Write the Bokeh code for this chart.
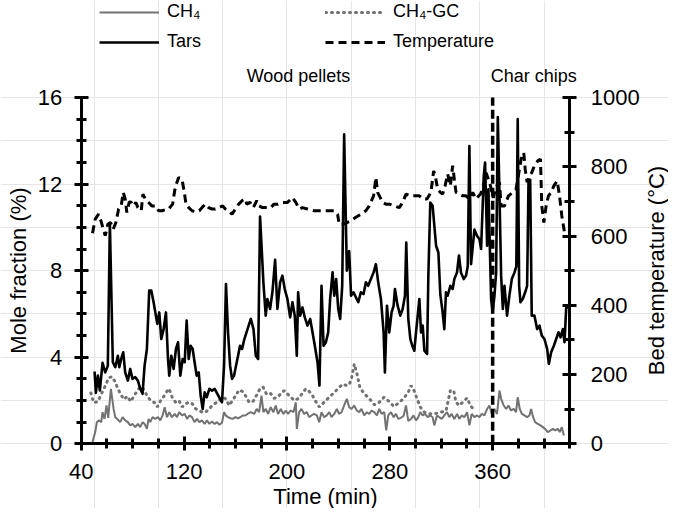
import math
from bokeh.plotting import figure
from bokeh.models import (Range1d, LinearAxis, FixedTicker, Legend, LegendItem, Label)
from bokeh.embed import file_html
from bokeh.resources import INLINE

# ---------------- data ----------------
tars_time = [50.4, 51.4, 53.0, 54.5, 56.6, 58.7, 60.7, 62.3, 64.6, 66.5, 68.5, 69.6, 71.1, 72.7,
             74.2, 76.3, 78.1, 79.9, 82.0, 84.1, 85.9, 87.7, 89.3, 91.1, 92.9, 94.5, 96.3, 98.1,
             99.2, 100.7, 102.3, 104.1, 105.9, 107.5, 108.5, 110.1, 111.9, 113.7, 115.3, 117.1,
             118.9, 120.5, 122.0, 123.6, 125.1, 126.7, 128.2, 129.8, 131.4, 132.9, 134.5, 136.0,
             137.6, 139.7, 141.7, 143.8, 145.9, 148.0, 149.5, 151.1, 152.6, 154.2, 155.8, 157.3,
             158.9, 160.4, 162.0, 163.5, 165.1, 166.9, 169.0, 171.9, 174.0, 175.8, 177.6, 179.1,
             181.7, 183.5, 184.8, 186.9, 188.7, 190.8, 192.6, 194.7, 196.5, 198.3, 200.4, 202.5,
             204.3, 206.1, 207.7, 208.7, 210.3, 212.1, 213.9, 216.0, 218.1, 219.9, 221.7, 223.8,
             225.3, 226.9, 228.5, 230.3, 232.1, 233.6, 235.5, 236.8, 238.3, 239.9, 241.4, 243.0,
             244.5, 246.6, 248.4, 249.9, 251.8, 253.6, 255.5, 257.5, 259.6, 261.4, 263.2, 265.3,
             267.4, 269.2, 271.0, 273.1, 275.2, 276.2, 277.8, 279.6, 281.4, 283.0, 284.0, 286.1,
             288.2, 290.0, 291.8, 292.8, 294.4, 296.0, 297.5, 299.1, 300.4, 301.7, 303.0, 304.3,
             305.6, 306.9, 309.0, 310.0, 311.5, 313.3, 316.0, 317.8, 319.3, 321.1, 322.4, 323.7,
             325.0, 327.1, 328.9, 330.2, 332.3, 333.8, 335.4, 337.5, 339.3, 340.6, 341.9, 343.2,
             345.8, 347.9, 349.7, 351.0, 353.1, 354.1, 355.7, 356.7, 358.8, 360.0, 361.4, 362.7,
             364.0, 365.3, 366.6, 367.9, 369.2, 371.2, 373.0, 374.9, 377.0, 378.4, 379.5, 380.6,
             381.6, 383.4, 385.3, 386.8, 387.9, 389.2, 390.4, 392.5, 394.6, 396.4, 398.2, 400.3,
             402.4, 403.7, 405.5, 407.6, 409.4, 411.2, 412.8, 414.6, 415.9, 417.2, 419.8]
tars_val = [3.34, 2.35, 3.15, 2.46, 3.74, 3.3, 3.6, 10.2, 3.77, 3.54, 4.07, 3.54, 3.92, 4.23,
            3.3, 2.92, 3.46, 3.0, 3.08, 2.92, 2.54, 2.31, 3.61, 4.38, 7.08, 7.08, 6.54, 5.92,
            5.54, 6.07, 4.84, 5.3, 6.07, 3.92, 3.15, 4.07, 3.46, 4.38, 4.69, 3.15,
            3.92, 3.77, 5.69, 3.92, 4.53, 4.38, 3.77, 3.15, 3.3, 2.23, 1.61, 2.38,
            2.15, 2.54, 2.46, 2.54, 2.31, 2.08, 1.92, 3.61, 7.38, 5.15, 3.61, 3.0,
            3.15, 3.61, 4.07, 4.53, 4.38, 4.84, 5.23, 5.77, 5.3, 4.07, 3.92, 10.5,
            7.46, 5.92, 6.69, 6.23, 7.0, 8.5, 6.23, 7.46, 7.77, 7.15, 6.69, 5.84,
            6.54, 5.92, 4.07, 7.0, 5.92, 6.3, 5.84, 5.46, 5.77, 5.15, 4.53, 3.77,
            2.69, 7.3, 4.53, 4.69, 5.15, 6.69, 7.92, 6.84, 7.61, 6.23, 5.77, 7.3,
            14.3, 8.0, 8.9, 6.84, 7.0, 6.77, 6.54, 7.0, 6.92, 7.46, 7.3, 7.61,
            7.92, 8.3, 7.46, 6.69, 5.15, 3.3, 6.38, 5.15, 6.07, 6.38, 7.15, 6.38,
            5.92, 6.23, 6.84, 9.3, 5.77, 4.84, 4.53, 4.3, 5.15, 5.92, 6.69, 5.15,
            5.46, 4.3, 4.15, 7.8, 11.15, 11.0, 9.15, 8.84, 6.9, 6.07, 5.3, 7.0,
            6.84, 7.3, 7.15, 7.61, 7.92, 8.7, 7.9, 7.61, 7.77, 8.2, 13.76, 8.3,
            9.9, 9.6, 9.46, 9.0, 12.38, 13.0, 9.15, 11.76, 6.69, 6.07, 6.84, 7.92,
            15.1, 11.5, 7.77, 6.23, 7.3, 5.92, 6.84, 7.61, 7.92, 8.2, 15.0, 7.3,
            6.54, 6.69, 7.0, 7.3, 12.2, 12.2, 5.92, 5.92, 5.3, 5.46, 5.0, 4.84,
            4.38, 3.69, 4.23, 4.53, 4.84, 5.15, 4.92, 5.3, 4.69, 6.3, 6.3]

temp_time = [48.8, 50.9, 53.5, 55.6, 57.1, 58.7, 60.7, 62.8, 64.9, 67.0, 69.1, 71.1, 72.7, 74.2,
             75.5, 77.4, 78.9, 80.7, 82.5, 84.1, 86.7, 88.0, 89.8, 92.4, 95.0, 98.1, 100.2, 102.8,
             105.4, 108.0, 111.1, 112.7, 113.7, 115.8, 118.4, 120.2, 121.5, 123.6, 126.2, 129.3,
             131.9, 133.9, 136.5, 139.1, 141.7, 144.3, 146.9, 150.0, 152.1, 154.7, 157.3, 159.9,
             162.5, 165.1, 167.7, 168.7, 171.3, 173.9, 176.5, 178.4, 180.9, 183.5, 187.4, 190.0,
             193.1, 196.5, 200.4, 204.3, 206.9, 209.5, 212.1, 216.0, 221.2, 225.1, 229.0, 232.9,
             236.8, 239.4, 240.6, 243.3, 246.6, 249.7, 253.6, 257.5, 261.4, 264.0, 267.4, 269.2,
             270.5, 272.6, 274.4, 277.0, 279.6, 283.5, 287.4, 290.0, 292.6, 296.5, 299.6, 303.0,
             305.6, 308.9, 312.0, 314.1, 315.4, 317.2, 319.3, 321.1, 323.0, 325.0, 327.1, 328.9,
             330.2, 331.5, 334.1, 336.7, 339.3, 341.9, 344.5, 347.1, 350.5, 352.3, 354.9, 356.7,
             358.3, 360.5, 362.5, 365.3, 366.6, 369.2, 372.3, 375.7, 378.2, 380.0, 382.1, 384.2,
             385.3, 386.8, 388.6, 390.4, 392.5, 395.1, 397.2, 398.2, 399.8, 401.6, 403.4, 405.5,
             407.6, 410.2, 412.0, 413.8, 415.9, 417.5]
temp_val = [608, 649, 663, 641, 620, 601, 634, 639, 620, 639, 678, 687, 726, 707,
            668, 699, 697, 687, 697, 682, 673, 721, 707, 697, 687, 687, 673, 673,
            676, 678, 692, 731, 747, 769, 764, 726, 692, 682, 673, 670,
            673, 682, 692, 682, 678, 678, 682, 687, 678, 673, 663, 678,
            692, 702, 707, 692, 697, 682, 702, 687, 682, 682, 682, 692,
            692, 697, 697, 711, 697, 678, 682, 678, 673, 673, 673, 673,
            673, 663, 634, 634, 639, 644, 654, 663, 673, 687, 716, 769,
            726, 711, 697, 692, 692, 687, 682, 697, 721, 716, 716, 716,
            707, 707, 726, 788, 774, 735, 726, 721, 745, 779, 745, 803,
            764, 726, 721, 716, 716, 707, 726, 707, 721, 735, 783, 764,
            745, 710, 740, 755, 687, 687, 716, 726, 735, 774, 822, 841,
            793, 755, 774, 783, 803, 817, 822, 687, 639, 687, 716, 726,
            745, 759, 716, 658, 610, 600]

ch4_time = [48.8, 50.9, 52.2, 54.0, 55.6, 56.6, 58.1, 59.7, 61.0, 63.1, 65.2, 66.5, 68.5, 70.3,
            72.2, 74.2, 76.3, 78.1, 79.9, 82.0, 84.1, 85.9, 87.7, 89.3, 91.1, 92.4, 93.7, 95.5,
            97.6, 99.7, 101.5, 103.3, 104.9, 106.7, 108.5, 110.6, 112.7, 114.5, 116.3, 118.4,
            120.5, 122.3, 124.1, 126.2, 128.2, 130.1, 131.9, 133.9, 136.0, 137.8, 139.7, 141.7,
            143.8, 145.6, 147.5, 149.5, 151.1, 152.6, 154.2, 156.0, 157.8, 159.9, 162.0, 163.8,
            165.6, 167.7, 169.3, 171.9, 174.5, 176.5, 178.4, 180.2, 181.7, 183.5, 185.4, 187.4,
            189.5, 191.3, 193.1, 195.2, 197.3, 199.1, 200.9, 203.0, 205.1, 206.9, 207.7, 209.5,
            211.3, 213.4, 215.5, 217.3, 219.1, 221.2, 223.3, 225.1, 226.9, 229.0, 231.0, 232.9,
            234.7, 236.8, 238.8, 240.6, 242.5, 244.5, 246.6, 248.4, 250.3, 252.3, 254.4, 256.2,
            258.0, 260.1, 262.2, 264.0, 265.8, 267.9, 270.0, 271.8, 273.6, 275.7, 277.2, 278.8,
            280.9, 283.0, 284.8, 286.6, 288.7, 290.8, 292.6, 294.4, 296.5, 298.5, 300.4, 302.2,
            303.7, 305.6, 307.4, 309.5, 311.5, 313.3, 314.6, 316.7, 318.5, 320.4, 322.4, 324.5,
            326.3, 328.1, 330.2, 332.3, 334.1, 335.9, 338.0, 340.1, 341.9, 343.7, 345.8, 347.9,
            349.7, 351.5, 353.6, 355.7, 357.5, 359.3, 361.4, 363.4, 365.3, 366.6, 368.6, 370.5,
            372.3, 374.3, 376.4, 378.2, 379.5, 381.1, 382.7, 384.7, 386.8, 388.6, 389.9, 391.5,
            393.0, 395.1, 397.2, 399.0, 400.8, 402.9, 405.0, 406.8, 408.6, 410.7, 412.2, 413.8,
            415.4]
ch4_val = [0.08, 0.54, 1.0, 1.08, 1.0, 1.46, 1.15, 1.77, 1.2, 2.54, 1.61, 1.23, 1.12, 1.0,
           1.23, 1.08, 1.0, 0.85, 0.92, 0.77, 0.92, 0.77, 1.0, 0.92, 0.69, 1.15, 1.0, 1.23,
           1.15, 1.23, 1.08, 1.31, 1.69, 1.23, 1.46, 1.23, 1.38, 1.23, 1.46, 1.31,
           1.38, 1.15, 1.31, 1.23, 1.0, 1.15, 1.0, 1.08, 0.92, 1.08, 0.92, 1.03,
           0.92, 1.0, 0.88, 0.97, 1.46, 1.3, 1.23, 1.18, 1.15, 1.23, 1.18, 1.23,
           1.31, 1.31, 1.38, 1.46, 1.38, 1.61, 1.46, 2.23, 1.46, 1.61, 1.38, 1.69,
           1.46, 1.77, 1.38, 1.61, 1.38, 1.54, 1.38, 1.54, 1.46, 1.92, 0.69, 1.46,
           1.61, 1.38, 1.46, 1.23, 1.31, 1.38, 1.31, 1.0, 1.46, 1.23, 1.31, 1.46,
           1.23, 1.38, 1.61, 1.38, 1.46, 1.77, 2.08, 1.69, 1.61, 1.77, 1.54, 1.46,
           1.61, 1.31, 1.46, 1.38, 1.54, 1.46, 1.31, 1.61, 1.38, 1.46, 0.62, 1.31,
           1.46, 1.23, 1.38, 1.15, 1.2, 1.3, 1.77, 1.05, 1.15, 1.31, 1.08, 1.23,
           1.46, 1.31, 1.38, 1.23, 1.31, 1.23, 0.85, 1.31, 1.23, 1.15, 1.31, 1.46,
           1.23, 1.38, 1.15, 1.38, 1.15, 1.31, 1.23, 1.46, 0.85, 1.38, 1.23, 1.31,
           1.23, 1.38, 1.31, 1.61, 1.77, 1.38, 1.61, 1.38, 2.46, 2.08, 1.77, 1.61,
           1.77, 1.54, 1.61, 1.46, 2.15, 1.61, 1.38, 1.31, 1.23, 1.31, 1.61, 1.23,
           1.0, 0.92, 0.85, 0.77, 0.69, 0.54, 0.62, 0.69, 0.62, 0.69, 0.54, 0.77,
           0.38]

gc_time = [47.5, 49.7, 53.0, 56.4, 58.8, 61.4, 64.0, 66.0, 68.2, 70.5, 73.3, 75.8, 78.5, 81.0,
           83.6, 86.2, 88.8, 91.4, 94.0, 97.0, 99.2, 101.8, 103.8, 106.4, 108.2, 110.8, 113.4,
           116.0, 118.6, 121.2, 123.8, 126.4, 129.0, 131.6, 134.2, 136.8, 140.7, 143.3, 145.9,
           149.8, 152.4, 155.0, 157.6, 160.2, 162.8, 165.4, 168.0, 170.6, 173.5, 176.5, 179.0,
           181.5, 184.0, 187.0, 190.0, 192.6, 195.2, 197.8, 200.4, 203.0, 206.0, 209.5, 212.1,
           214.7, 217.3, 219.9, 222.5, 225.1, 227.7, 230.3, 232.9, 235.5, 238.1, 240.6, 243.2,
           245.8, 248.4, 250.3, 252.4, 254.4, 256.8, 260.2, 264.0, 268.0, 271.8, 275.5, 279.6,
           283.2, 287.2, 290.8, 294.4, 296.5, 298.6, 301.2, 303.8, 306.9, 310.8, 314.7, 319.9,
           323.8, 327.1, 329.7, 331.5, 334.1, 336.7, 340.1, 342.7, 345.8]
gc_val = [2.35, 1.9, 1.95, 2.39, 2.69, 3.05, 3.1, 2.9, 2.6, 2.3, 2.05, 2.2, 1.95, 2.2,
          2.45, 2.65, 2.5, 2.2, 2.0, 1.9, 1.7, 2.0, 2.15, 2.4, 2.55, 2.15, 1.92,
          2.0, 1.7, 1.85, 1.92, 1.85, 1.62, 1.54, 1.46, 1.46, 1.69, 1.85, 1.92,
          2.15, 2.08, 1.77, 2.0, 2.23, 2.49, 2.42, 2.2, 1.92, 1.95, 2.25, 2.54,
          2.62, 2.31, 2.35, 2.1, 2.15, 2.31, 2.46, 2.31, 2.15, 2.0, 2.12, 2.35,
          2.54, 2.42, 2.23, 1.95, 1.7, 1.85, 2.0, 2.15, 2.3, 2.45, 2.6, 2.75,
          2.7, 2.72, 3.05, 3.69, 3.25, 2.6, 2.31, 2.1, 1.8, 1.92, 2.15, 1.95,
          1.72, 1.9, 2.1, 2.39, 2.69, 2.5, 2.08, 1.69, 1.46, 1.39, 1.39, 1.46,
          1.54, 2.46, 2.46, 1.92, 1.77, 1.92, 2.12, 1.77, 1.54]

x_major = [40, 120, 200, 280, 360]
x_limits = [40, 420]
y_left_major = [0, 4, 8, 12, 16]
y_right_major = [0, 200, 400, 600, 800, 1000]
feed_change_time = 360
phase_labels = ["Wood pellets", "Char chips"]
phase_label_x = [209, 392]

FONT = "Liberation Sans"
GRAY = "#727272"

W, H = 668, 508
# pixel placement of the axes box on the canvas (plot area)
BOX_L, BOX_R, BOX_T, BOX_B = 80.7, 569.3, 97.0, 443.3
x_scale = (BOX_R - BOX_L) / (x_limits[1] - x_limits[0])
x_start = x_limits[0] - BOX_L / x_scale
x_end = x_start + W / x_scale
y_scale = (BOX_B - BOX_T) / (y_left_major[-1] - y_left_major[0])
y_end = y_left_major[-1] + BOX_T / y_scale
y_start = y_end - H / y_scale
t_ratio = y_right_major[-1] / y_left_major[-1]

p = figure(width=W, height=H, x_range=Range1d(x_start, x_end), y_range=Range1d(y_start, y_end),
           output_backend="svg", toolbar_location=None, x_axis_location=None,
           y_axis_location=None,
           min_border_left=0, min_border_right=0, min_border_top=0, min_border_bottom=0)
p.extra_y_ranges = {"temp": Range1d(y_start * t_ratio, y_end * t_ratio)}
p.outline_line_color = None
p.background_fill_color = "white"

r_ch4 = p.line(ch4_time, ch4_val, line_color=GRAY, line_width=2)
r_gc = p.line(gc_time, gc_val, line_color=GRAY, line_width=3, line_dash="1 5",
              line_cap="round")
r_tars = p.line(tars_time, tars_val, line_color="black", line_width=2.6, line_join="round")
r_temp = p.line(temp_time, temp_val, y_range_name="temp", line_color="black", line_width=3,
                line_dash="8 5")

p.segment(x0=[feed_change_time], y0=[y_left_major[0]], x1=[feed_change_time],
          y1=[y_left_major[-1]], line_color="black", line_width=3.5, line_dash="9 4")

def style_axis(ax):
    ax.axis_line_width = 3
    ax.axis_line_color = "black"
    ax.major_tick_line_width = 3
    ax.minor_tick_line_width = 3
    ax.major_tick_in = 7
    ax.major_tick_out = 7
    ax.minor_tick_in = 5
    ax.minor_tick_out = 5
    ax.major_label_text_font = FONT
    ax.major_label_text_font_size = "22px"
    ax.major_label_text_color = "black"

xa = LinearAxis(fixed_location=y_left_major[0], bounds=tuple(x_limits))
xa.ticker = FixedTicker(ticks=x_major, minor_ticks=list(range(x_limits[0], x_limits[1] + 1, 20)))
style_axis(xa)
xa.major_label_standoff = 13
p.add_layout(xa, "below")

ya = LinearAxis(fixed_location=x_limits[0], bounds=(y_left_major[0], y_left_major[-1]))
ya.ticker = FixedTicker(ticks=y_left_major, minor_ticks=list(range(0, 17)))
style_axis(ya)
ya.major_label_standoff = 12
p.add_layout(ya, "left")

yr = LinearAxis(y_range_name="temp", fixed_location=x_limits[1],
                bounds=(y_right_major[0], y_right_major[-1]))
yr.ticker = FixedTicker(ticks=y_right_major, minor_ticks=list(range(0, 1001, 100)))
style_axis(yr)
yr.major_label_standoff = 14
p.add_layout(yr, "right")

def px_to_x(px):
    return x_start + px / x_scale

def py_to_y(py):
    return y_end - py / y_scale

title_kw = dict(text_font=FONT, text_font_size="22px", text_color="black",
                text_align="center", text_baseline="middle")
p.add_layout(Label(x=px_to_x(325), y=py_to_y(496), text="Time (min)", **title_kw))
p.add_layout(Label(x=px_to_x(18), y=py_to_y(270), text="Mole fraction (%)",
                   angle=math.pi / 2, **title_kw))
p.add_layout(Label(x=px_to_x(656), y=py_to_y(270), text="Bed temperature (°C)",
                   angle=math.pi / 2, **title_kw))

for txt, xx in zip(phase_labels, phase_label_x):
    p.add_layout(Label(x=xx, y=17.0, text=txt, text_align="center", text_baseline="middle",
                       text_font=FONT, text_font_size="18px", text_color="black"))

def make_legend(items, x):
    return Legend(items=items, location=(x, H - 52), orientation="vertical",
                  glyph_width=60, glyph_height=20, label_height=20, label_standoff=8,
                  spacing=9, padding=0, margin=0, border_line_color=None,
                  background_fill_alpha=0, label_text_font=FONT, label_text_font_size="18px",
                  label_text_color="black")

leg1 = make_legend([LegendItem(label="CH\u2084", renderers=[r_ch4]),
                    LegendItem(label="Tars", renderers=[r_tars])], 99)
leg2 = make_legend([LegendItem(label="CH\u2084-GC", renderers=[r_gc]),
                    LegendItem(label="Temperature", renderers=[r_temp])], 325)
p.add_layout(leg1, "center")
p.add_layout(leg2, "center")

open("out.html", "w").write(file_html(p, INLINE))
